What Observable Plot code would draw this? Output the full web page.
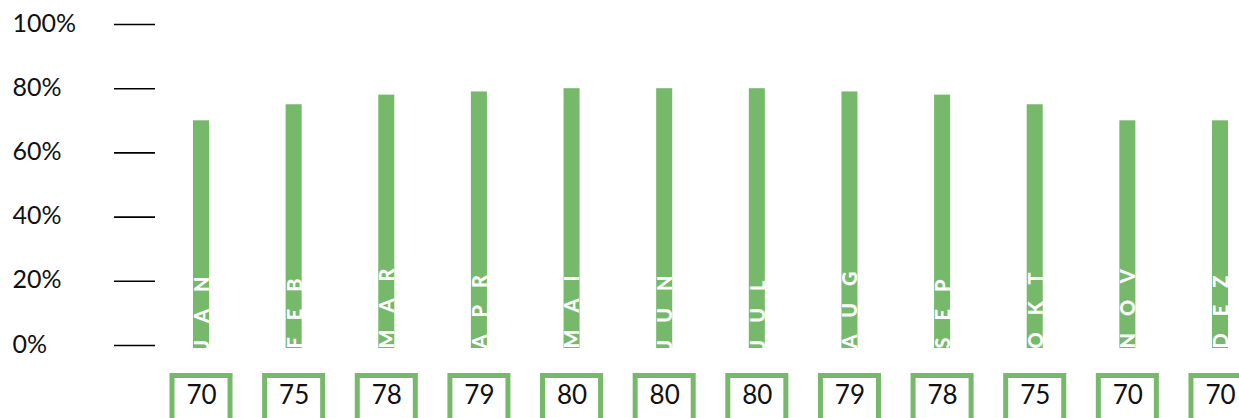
<!DOCTYPE html>
<html>
<head>
<meta charset="utf-8">
<script src="https://cdn.jsdelivr.net/npm/d3@7"></script>
<script src="https://cdn.jsdelivr.net/npm/@observablehq/plot@0.6"></script>
<style>
  html, body { margin: 0; padding: 0; background: #fff; }
  #chart svg { display: block; }
</style>
</head>
<body>
<div id="chart"></div>
<script>
// Monthly values (percent) and their German month abbreviations
const months = ["JAN", "FEB", "MAR", "APR", "MAI", "JUN", "JUL", "AUG", "SEP", "OKT", "NOV", "DEZ"];
const values = [70, 75, 78, 79, 80, 80, 80, 79, 78, 75, 70, 70];
const yTicks = [0, 20, 40, 60, 80, 100];

const green = "#77b96b";
const data = months.map((m, i) => ({month: m, value: values[i]}));

const chart = Plot.plot({
  width: 1239,
  height: 418,
  marginLeft: 182,
  marginRight: 0,
  marginTop: 24,
  marginBottom: 73,
  x: {type: "band", domain: months, paddingInner: 0.827, paddingOuter: 0.1187, round: false, axis: null},
  y: {domain: [0, 100], axis: null},
  style: {fontFamily: "Lato, 'Open Sans', sans-serif", background: "#fff", overflow: "hidden"},
  marks: [
    // short tick lines of the percentage axis
    Plot.axisY({ticks: yTicks, tickSize: 41, dx: -27, tickFormat: () => "", label: null, stroke: "#000", strokeWidth: 1.6}),
    // left-aligned percentage labels
    Plot.text(yTicks, {y: d => d, text: d => d + "%", frameAnchor: "left", textAnchor: "start", dx: -170, dy: -1, fontSize: 25, fill: "#111"}),
    // monthly bars
    Plot.barY(data, {x: "month", y: "value", fill: green, insetBottom: -3}),
    // month names running up inside the bars (each element labelled by its month)
    Plot.text(data, {x: "month", y: 0, text: "month", rotate: -90, textAnchor: "start", dy: 3, dx: 1, fill: "#fff", fontWeight: 900, fontSize: 20, ariaLabel: "month"}),
    // value boxes under the bars
    Plot.barY(data, {x: "month", y1: -9.5, y2: -32, fill: "#fff", stroke: green, strokeWidth: 5, insetLeft: -21, insetRight: -21}),
    Plot.text(data, {x: "month", y: -15.7, text: d => String(d.value), fontSize: 26, fill: "#111"})
  ]
});

// spread the letters of the month names
d3.select(chart).selectAll("text")
  .filter(function () { return months.includes(this.getAttribute("aria-label")); })
  .style("letter-spacing", "17px");

document.getElementById("chart").append(chart);
</script>
</body>
</html>
